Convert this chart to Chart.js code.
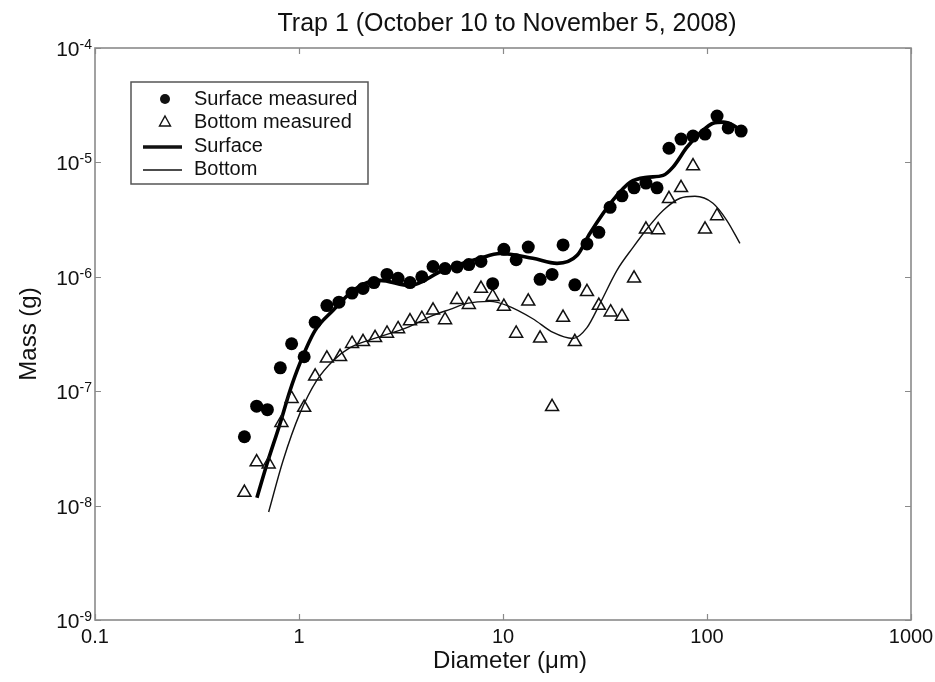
<!DOCTYPE html>
<html>
<head>
<meta charset="utf-8">
<script src="https://cdn.jsdelivr.net/npm/chart.js@4.4.1/dist/chart.umd.min.js"></script>
<style>html,body{margin:0;padding:0;background:#fff}</style>
</head>
<body>
<canvas id="chart" width="935" height="682"></canvas>
<script>
// measured points
const surfaceDiam = [0.54,0.62,0.70,0.81,0.92,1.06,1.2,1.37,1.57,1.82,2.06,2.33,2.70,3.06,3.5,4.0,4.54,5.2,5.95,6.8,7.8,8.9,10.1,11.6,13.3,15.2,17.4,19.7,22.5,25.8,29.5,33.5,38.3,43.9,50.2,56.9,65.1,74.6,85.4,97.8,112,127,147];
const surfaceMass = [4.0e-8,7.4e-8,6.9e-8,1.6e-7,2.6e-7,2.0e-7,4.0e-7,5.6e-7,6.0e-7,7.2e-7,7.9e-7,8.9e-7,1.05e-6,9.7e-7,8.9e-7,1.0e-6,1.23e-6,1.18e-6,1.22e-6,1.28e-6,1.36e-6,8.7e-7,1.74e-6,1.41e-6,1.82e-6,9.5e-7,1.05e-6,1.9e-6,8.5e-7,1.94e-6,2.45e-6,4.05e-6,5.1e-6,6.0e-6,6.6e-6,6.0e-6,1.33e-5,1.6e-5,1.7e-5,1.77e-5,2.54e-5,2.0e-5,1.88e-5];
const bottomDiam = [0.54,0.62,0.71,0.82,0.92,1.06,1.2,1.37,1.59,1.82,2.06,2.36,2.70,3.06,3.5,4.0,4.54,5.2,5.95,6.8,7.8,8.9,10.1,11.6,13.3,15.2,17.4,19.7,22.5,25.8,29.5,33.7,38.3,43.9,50.2,57.6,65.1,74.6,85.4,97.8,112];
const bottomMass = [1.3e-8,2.4e-8,2.3e-8,5.3e-8,8.6e-8,7.2e-8,1.35e-7,1.94e-7,2.0e-7,2.6e-7,2.7e-7,2.93e-7,3.2e-7,3.5e-7,4.1e-7,4.3e-7,5.1e-7,4.2e-7,6.3e-7,5.7e-7,7.9e-7,6.7e-7,5.5e-7,3.2e-7,6.1e-7,2.9e-7,7.3e-8,4.4e-7,2.7e-7,7.4e-7,5.6e-7,4.9e-7,4.5e-7,9.7e-7,2.6e-6,2.57e-6,4.8e-6,6.0e-6,9.3e-6,2.6e-6,3.4e-6];

// fitted curves
const surfaceFitDiam = [0.622,0.697,0.807,0.903,1.01,1.2,1.47,1.78,2.06,2.49,3.5,5.08,7.7,9.67,14.0,18.4,23.1,26.7,34.6,42,50.8,60.9,68.1,79.8,92.4,107,120,134,150];
const surfaceFitMass = [1.17e-8,2.32e-8,5.2e-8,1.01e-7,1.75e-7,3.4e-7,5.1e-7,7.2e-7,8.6e-7,9.3e-7,8.4e-7,1.14e-6,1.45e-6,1.6e-6,1.45e-6,1.31e-6,1.54e-6,2.4e-6,4.67e-6,6.7e-6,7.4e-6,7.7e-6,9.1e-6,1.36e-5,1.8e-5,2.2e-5,2.25e-5,2.12e-5,1.84e-5];
const bottomFitDiam = [0.71,0.835,1.01,1.22,1.47,1.78,2.41,3.38,4.54,5.5,6.66,8.63,10.5,14.0,17.6,22.0,25.8,29.9,36.2,43.4,51.4,60.9,73.8,87.3,107,125,145];
const bottomFitMass = [8.8e-9,2.47e-8,6.4e-8,1.24e-7,1.85e-7,2.4e-7,2.94e-7,3.6e-7,4.6e-7,5.2e-7,5.85e-7,6.1e-7,5.6e-7,4.3e-7,3.26e-7,2.89e-7,3.6e-7,5.85e-7,1.14e-6,1.81e-6,2.7e-6,3.8e-6,4.86e-6,5.06e-6,4.4e-6,3.12e-6,1.96e-6];

// axis ticks
const xTicks = [0.1, 1, 10, 100, 1000];
const xTickLabels = ["0.1", "1", "10", "100", "1000"];
const yExponents = [-9, -8, -7, -6, -5, -4];

const FONT = "'Liberation Sans', Arial, sans-serif";
const pts = (xs, ys) => xs.map((x, i) => ({ x: x, y: ys[i] }));

// draws frame, inward ticks, labels, titles and the legend box
const decorPlugin = {
  id: "decor",
  afterDraw(chart) {
    const ctx = chart.ctx;
    const a = chart.chartArea;
    const xs = chart.scales.x, ys = chart.scales.y;
    ctx.save();

    // frame
    ctx.strokeStyle = "#8a8a8a";
    ctx.lineWidth = 1.6;
    ctx.strokeRect(a.left, a.top, a.right - a.left, a.bottom - a.top);

    // inward ticks
    ctx.lineWidth = 1.2;
    ctx.beginPath();
    xTicks.forEach(v => {
      const px = Math.round(xs.getPixelForValue(v)) + 0.5;
      ctx.moveTo(px, a.bottom); ctx.lineTo(px, a.bottom - 6);
      ctx.moveTo(px, a.top); ctx.lineTo(px, a.top + 6);
    });
    yExponents.forEach(e => {
      const py = Math.round(ys.getPixelForValue(Math.pow(10, e))) + 0.5;
      ctx.moveTo(a.left, py); ctx.lineTo(a.left + 6, py);
      ctx.moveTo(a.right, py); ctx.lineTo(a.right - 6, py);
    });
    ctx.stroke();

    ctx.fillStyle = "#111";

    // x tick labels
    ctx.font = "20px " + FONT;
    ctx.textAlign = "center";
    ctx.textBaseline = "alphabetic";
    xTicks.forEach((v, i) => {
      ctx.fillText(xTickLabels[i], xs.getPixelForValue(v), a.bottom + 23);
    });

    // y tick labels 10^e
    yExponents.forEach(e => {
      const py = ys.getPixelForValue(Math.pow(10, e));
      const sup = "-" + Math.abs(e);
      ctx.font = "14px " + FONT;
      const sw = ctx.measureText(sup).width;
      ctx.textAlign = "left";
      ctx.textBaseline = "alphabetic";
      const right = a.left - 3;
      ctx.fillText(sup, right - sw, py + 1);
      ctx.font = "21px " + FONT;
      ctx.textAlign = "right";
      ctx.fillText("10", right - sw, py + 8);
    });

    // axis titles
    ctx.font = "24px " + FONT;
    ctx.textAlign = "center";
    ctx.fillText("Diameter (\u03bcm)", 510, 668);
    ctx.save();
    ctx.translate(36, 334);
    ctx.rotate(-Math.PI / 2);
    ctx.fillText("Mass (g)", 0, 0);
    ctx.restore();

    // chart title
    ctx.font = "25px " + FONT;
    ctx.fillText("Trap 1 (October 10 to November 5, 2008)", 507, 31);

    // legend
    const lx = 131, ly = 82, lw = 237, lh = 102;
    ctx.fillStyle = "#fff";
    ctx.fillRect(lx, ly, lw, lh);
    ctx.strokeStyle = "#555";
    ctx.lineWidth = 1.5;
    ctx.strokeRect(lx, ly, lw, lh);
    ctx.fillStyle = "#111";
    ctx.strokeStyle = "#111";
    const entries = ["Surface measured", "Bottom measured", "Surface", "Bottom"];
    const rowY = [99, 122, 146, 169];
    ctx.font = "20px " + FONT;
    ctx.textAlign = "left";
    ctx.textBaseline = "middle";
    entries.forEach((t, i) => ctx.fillText(t, 194, rowY[i]));
    // markers
    ctx.beginPath();
    ctx.arc(165, rowY[0], 5, 0, Math.PI * 2);
    ctx.fill();
    ctx.lineWidth = 1.4;
    ctx.beginPath();
    ctx.moveTo(165, rowY[1] - 6);
    ctx.lineTo(170.5, rowY[1] + 4);
    ctx.lineTo(159.5, rowY[1] + 4);
    ctx.closePath();
    ctx.stroke();
    ctx.lineWidth = 3.5;
    ctx.beginPath();
    ctx.moveTo(143, rowY[2] + 1); ctx.lineTo(182, rowY[2] + 1);
    ctx.stroke();
    ctx.lineWidth = 1.3;
    ctx.beginPath();
    ctx.moveTo(143, rowY[3] + 1); ctx.lineTo(182, rowY[3] + 1);
    ctx.stroke();

    ctx.restore();
  }
};

new Chart(document.getElementById("chart"), {
  type: "scatter",
  data: {
    datasets: [
      {
        label: "Surface measured",
        data: pts(surfaceDiam, surfaceMass),
        pointStyle: "circle",
        pointRadius: 6.5,
        backgroundColor: "#000",
        borderColor: "#000",
        borderWidth: 0
      },
      {
        label: "Bottom measured",
        data: pts(bottomDiam, bottomMass),
        pointStyle: "triangle",
        pointRadius: 7.5,
        backgroundColor: "rgba(255,255,255,0)",
        borderColor: "#111",
        borderWidth: 1.5
      },
      {
        label: "Surface",
        data: pts(surfaceFitDiam, surfaceFitMass),
        showLine: true,
        pointRadius: 0,
        borderColor: "#000",
        borderWidth: 3.6,
        cubicInterpolationMode: "monotone"
      },
      {
        label: "Bottom",
        data: pts(bottomFitDiam, bottomFitMass),
        showLine: true,
        pointRadius: 0,
        borderColor: "#111",
        borderWidth: 1.4,
        cubicInterpolationMode: "monotone"
      }
    ]
  },
  options: {
    responsive: false,
    animation: false,
    devicePixelRatio: 1,
    layout: { padding: { left: 95, top: 48, right: 24, bottom: 62 } },
    plugins: { legend: { display: false }, tooltip: { enabled: false } },
    scales: {
      x: { type: "logarithmic", min: 0.1, max: 1000, display: false },
      y: { type: "logarithmic", min: 1e-9, max: 1e-4, display: false }
    }
  },
  plugins: [decorPlugin]
});
</script>
</body>
</html>
